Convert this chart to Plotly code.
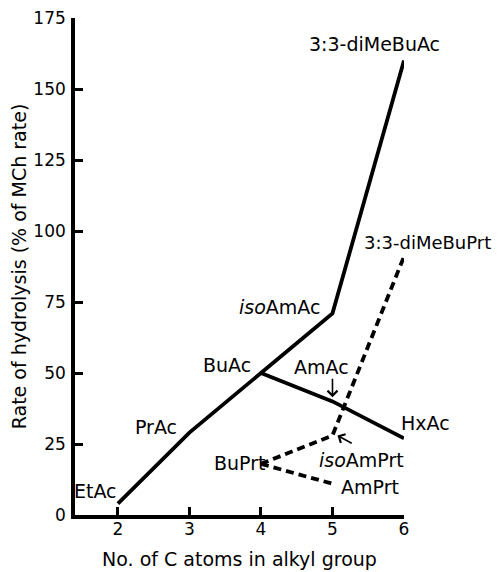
import plotly.graph_objects as go

# ---- data ----
acetate_x = [2, 3, 4, 5, 6]
acetate_y = [4, 29, 50, 71, 160]          # EtAc, PrAc, BuAc, isoAmAc, 3:3-diMeBuAc
acetate_n_x = [4, 5, 6]
acetate_n_y = [50, 40, 27]                # BuAc, AmAc, HxAc
prt_branch_x = [4, 5, 6]
prt_branch_y = [18, 28, 91]               # BuPrt, isoAmPrt, 3:3-diMeBuPrt
prt_n_x = [4, 5]
prt_n_y = [18, 11]                        # BuPrt, AmPrt

x_ticks = [2, 3, 4, 5, 6]
y_ticks = [0, 25, 50, 75, 100, 125, 150, 175]

label_text = ["EtAc", "PrAc", "BuAc", "<i>iso</i>AmAc", "3:3-diMeBuAc",
              "AmAc", "HxAc", "BuPrt", "<i>iso</i>AmPrt", "AmPrt", "3:3-diMeBuPrt"]
label_x = [1.69, 2.53, 3.52, 4.26, 5.59, 4.84, 6.0, 3.70, 5.41, 5.52, 6.0]
label_dx = [0, 0, 0, 0, 0, 0, 21, 0, 0, 0, 23]   # pixel shift for labels beyond the axis end
label_y = [8.5, 31, 52.8, 73.2, 166, 52, 32.4, 18.3, 19.4, 9.9, 95.8]
label_size = [19, 19, 19, 19, 19, 19, 19, 19, 19, 19, 18]

FONT = "DejaVu Sans"
TXT = 19
fig = go.Figure()
line_style = dict(color="black", width=3.8)
fig.add_trace(go.Scatter(x=acetate_x, y=acetate_y, mode="lines", line=line_style,
                         showlegend=False, cliponaxis=False))
fig.add_trace(go.Scatter(x=acetate_n_x, y=acetate_n_y, mode="lines", line=line_style,
                         showlegend=False, cliponaxis=False))
dash_style = dict(color="black", width=3.8, dash="8px,5px")
fig.add_trace(go.Scatter(x=prt_branch_x, y=prt_branch_y, mode="lines", line=dash_style,
                         showlegend=False, cliponaxis=False))
fig.add_trace(go.Scatter(x=prt_n_x, y=prt_n_y, mode="lines", line=dash_style,
                         showlegend=False, cliponaxis=False))

for t, lx, ly, dx, fs in zip(label_text, label_x, label_y, label_dx, label_size):
    fig.add_annotation(x=lx, y=ly, xshift=dx, text=t, showarrow=False,
                       font=dict(family=FONT, size=fs, color="black"))

# arrows
fig.add_annotation(x=5, y=41.5, ax=5, ay=48.5, axref="x", ayref="y", text="",
                   showarrow=True, arrowhead=4, arrowsize=1.2, arrowwidth=1.6,
                   arrowcolor="black")
fig.add_annotation(x=5.07, y=28, ax=5.29, ay=25, axref="x", ayref="y", text="",
                   showarrow=True, arrowhead=4, arrowsize=1.2, arrowwidth=1.6,
                   arrowcolor="black")

axis_common = dict(showgrid=False, zeroline=False, showline=True, linecolor="black",
                   linewidth=3.6, ticks="inside", ticklen=8, tickwidth=3.4,
                   tickcolor="black", automargin=False, ticklabeloverflow="allow",
                   tickfont=dict(family=FONT, size=17, color="black"))
fig.update_xaxes(range=[1.4, 6], tickvals=x_ticks, ticktext=[str(v) for v in x_ticks],
                 ticklabelstandoff=-4,
                 title=dict(text="No. of C atoms in alkyl group",
                            font=dict(family=FONT, size=TXT, color="black"), standoff=15),
                 **axis_common)
fig.update_yaxes(range=[0, 175], tickvals=y_ticks, ticktext=[str(v) for v in y_ticks],
                 ticklabelstandoff=2,
                 title=dict(text="Rate of hydrolysis (% of MCh rate)",
                            font=dict(family=FONT, size=TXT, color="black"), standoff=4),
                 **axis_common)
# the page adds an 8px body margin, so the figure is sized to fit the window
fig.update_layout(width=492, height=564, plot_bgcolor="white", paper_bgcolor="white",
                  margin=dict(l=67, r=96, t=10, b=57), showlegend=False)
fig.write_html("out.html")
